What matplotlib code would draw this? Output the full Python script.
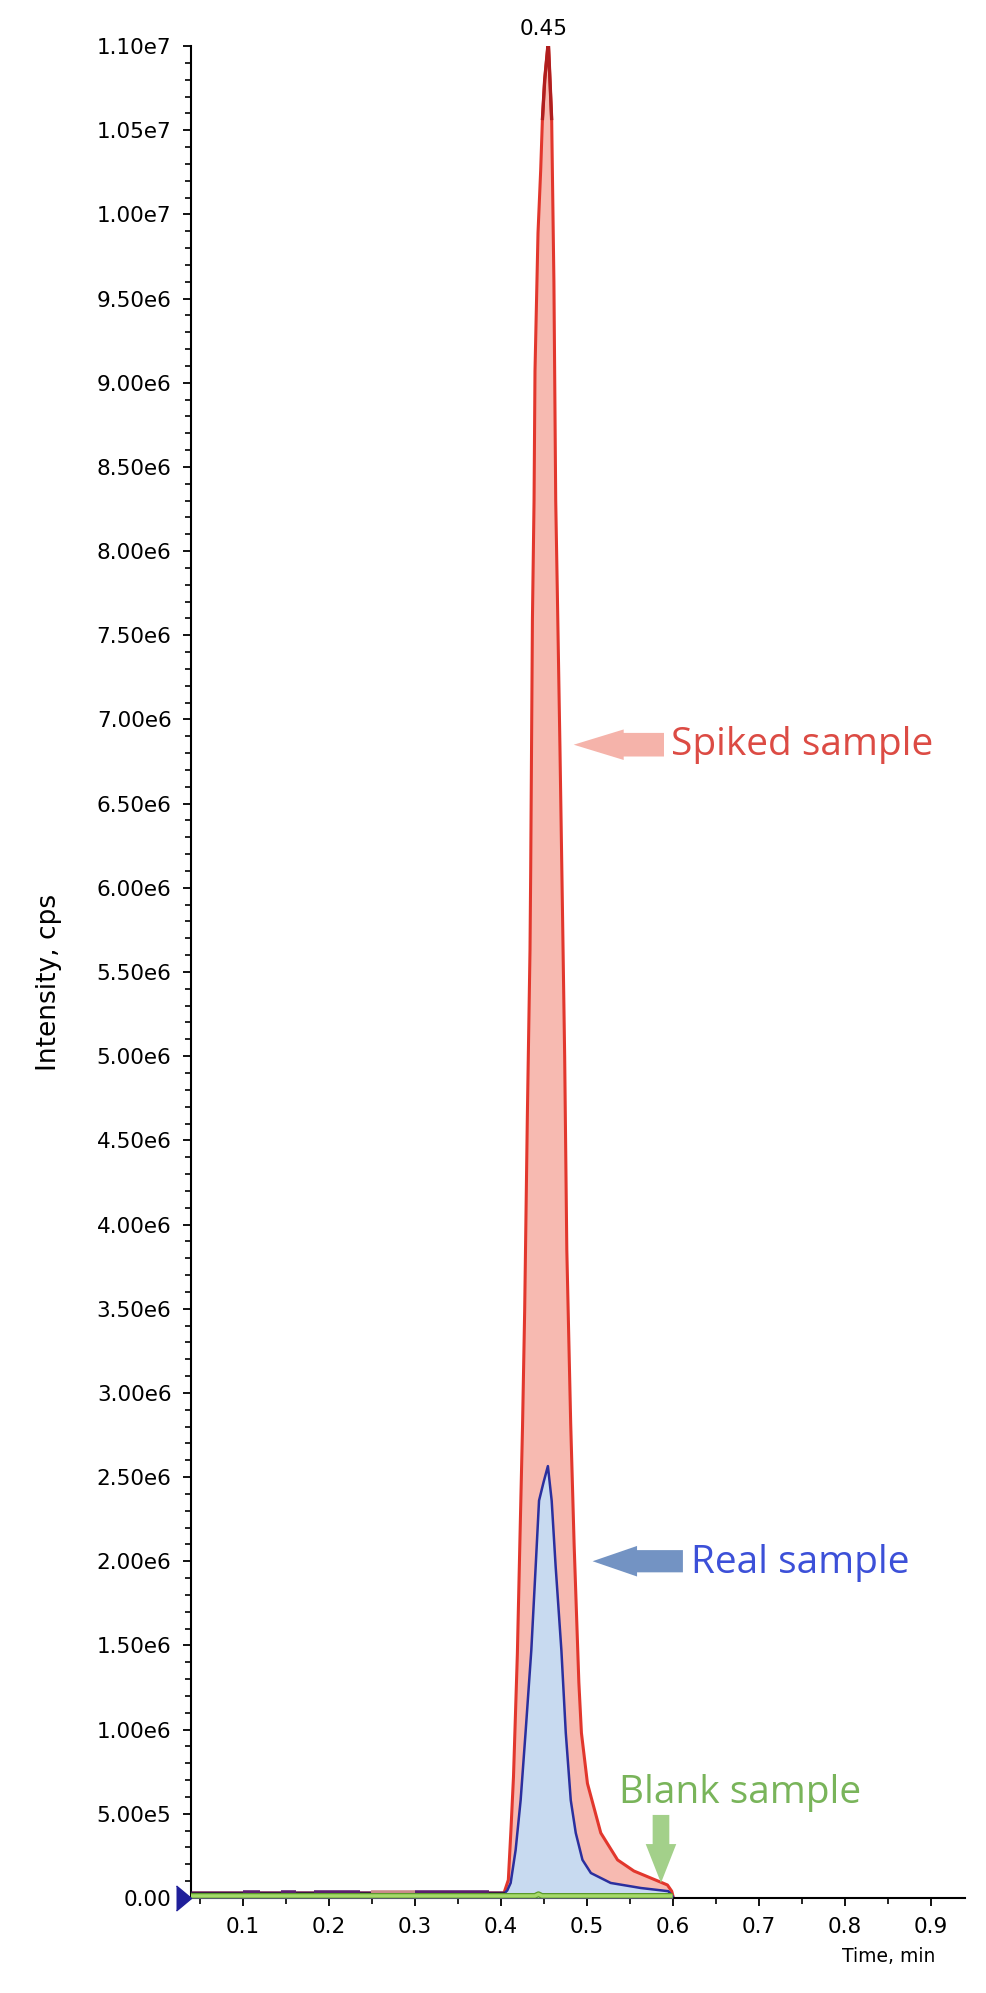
import numpy as np
import matplotlib
matplotlib.use("Agg")
import matplotlib.pyplot as plt
from matplotlib.ticker import MultipleLocator, FuncFormatter

# chromatogram values (time in min, intensity in cps)
spiked_t = [0.040, 0.404, 0.409, 0.412, 0.415, 0.4195, 0.4225, 0.4255, 0.428, 0.4311,
            0.4342, 0.435, 0.437, 0.4389, 0.440, 0.4435, 0.4466, 0.4486, 0.4513, 0.4550,
            0.4557, 0.4594, 0.4620, 0.4641, 0.4660, 0.4690, 0.4720, 0.4745, 0.4770, 0.4815,
            0.4855, 0.4910, 0.4940, 0.5010, 0.5165, 0.5360, 0.5550, 0.5710, 0.5940, 0.5990,
            0.6010]
spiked_i = [3.0e4, 3.0e4, 1.07e5, 4.0e5, 7.2e5, 1.45e6, 2.13e6, 2.8e6, 3.49e6, 4.64e6,
            5.63e6, 6.10e6, 7.59e6, 8.30e6, 9.07e6, 9.89e6, 1.026e7, 1.056e7, 1.080e7, 1.100e7,
            1.100e7, 1.056e7, 9.60e6, 8.30e6, 7.75e6, 6.84e6, 5.85e6, 5.00e6, 3.85e6, 2.82e6,
            2.10e6, 1.28e6, 9.8e5, 6.8e5, 3.86e5, 2.26e5, 1.60e5, 1.26e5, 7.7e4, 4.0e4,
            0.0]

real_t = [0.040, 0.405, 0.4078, 0.4117, 0.4175, 0.4233, 0.4290, 0.4357, 0.4408, 0.4447,
          0.4500, 0.4550, 0.4594, 0.4640, 0.4707, 0.4758, 0.4816, 0.4874, 0.4952, 0.5050,
          0.5280, 0.5630, 0.5950, 0.6000]
real_i = [3.0e4, 3.0e4, 4.5e4, 8.9e4, 2.85e5, 5.8e5, 9.8e5, 1.47e6, 1.97e6, 2.36e6,
          2.47e6, 2.565e6, 2.36e6, 1.97e6, 1.47e6, 9.8e5, 5.8e5, 3.86e5, 2.26e5, 1.48e5,
          8.9e4, 5.9e4, 4.0e4, 1.0e4]

blank_t = [0.040, 0.440, 0.444, 0.448, 0.600]
blank_i = [1.2e4, 1.2e4, 2.2e4, 1.2e4, 1.2e4]

# noisy stretches of the baseline (drawn purple / pink)
noise_start = [0.100, 0.145, 0.183, 0.300]
noise_end = [0.120, 0.162, 0.237, 0.386]
pink_start = [0.249]
pink_end = [0.300]

peak_rt = 0.45
peak_label = "0.45"

plt.rcParams['font.family'] = ['DejaVu Sans']

fig = plt.figure(figsize=(9.86, 19.93), dpi=100)
ax = fig.add_axes([0.1937, 0.0477, 0.785, 0.9292])

# spiked sample
ax.fill_between(spiked_t, spiked_i, 0, color='#f7bab1', lw=0, zorder=1)
ax.plot(spiked_t, spiked_i, color='#e2372d', lw=2.2, zorder=2)
top = np.ma.masked_less(np.array(spiked_i), 1.03e7)
ax.plot(spiked_t, top, color='#b01e1e', lw=2.4, zorder=2, solid_capstyle='butt')

# real sample
ax.fill_between(real_t, real_i, 0, color='#c8daf0', lw=0, zorder=3)
ax.plot(real_t, real_i, color='#2b2f9e', lw=1.8, zorder=4)

# baseline (red + blue overlapping)
base = spiked_i[0]
ax.plot(spiked_t[:2], spiked_i[:2], color='#3a1840', lw=1.6, zorder=5)
ax.hlines([base] * len(noise_start), noise_start, noise_end, color='#5b1f6e', lw=4, zorder=5)
ax.hlines([base] * len(pink_start), pink_start, pink_end, color='#c98a8a', lw=4, zorder=5)

# blank sample
ax.plot(blank_t, blank_i, color='#5a9a2a', lw=4.2, zorder=6, solid_capstyle='butt')
ax.plot(blank_t, blank_i, color='#a6d96a', lw=2.4, zorder=6, solid_capstyle='butt')

ax.set_xlim(0.04, 0.94)
ax.set_ylim(0, 1.10e7)

ax.spines['top'].set_visible(False)
ax.spines['right'].set_visible(False)
ax.spines['left'].set_linewidth(1.5)
ax.spines['bottom'].set_linewidth(1.5)

ax.xaxis.set_major_locator(MultipleLocator(0.1))
ax.xaxis.set_minor_locator(MultipleLocator(0.05))
ax.yaxis.set_major_locator(MultipleLocator(5e5))
ax.yaxis.set_minor_locator(MultipleLocator(1e5))


def sci(v, pos):
    v = round(v)
    if v == 0:
        return "0.00"
    if v < 0:
        return ""
    e = int(np.floor(np.log10(v)))
    return f"{v / 10 ** e:.2f}e{e}"


ax.yaxis.set_major_formatter(FuncFormatter(sci))
ax.xaxis.set_major_formatter(FuncFormatter(lambda v, p: f"{v:.1f}"))
ax.tick_params(axis='both', which='major', direction='out', length=6, width=1.3,
               labelsize=15.5, pad=8)
ax.tick_params(axis='both', which='minor', direction='out', length=4, width=1.2)
ax.tick_params(axis='x', which='major', pad=8)

ax.set_ylabel("Intensity, cps", fontsize=19)
ax.yaxis.set_label_coords(-0.167, 0.4946)
ax.set_xlabel("Time, min", fontsize=13.5)
ax.xaxis.set_label_coords(0.902, -0.0265)

# retention time label above the peak
ax.annotate(peak_label, xy=(peak_rt, max(spiked_i)), xytext=(0, 5),
            textcoords='offset points', ha='center', va='bottom', fontsize=15.5,
            annotation_clip=False)

# blue marker at the origin
ax.plot([0.04], [0], marker=[(-1.2, -1), (0, 0), (-1.2, 1)], markersize=21.6,
        color='#1f1f9a', clip_on=False, zorder=10)

# annotations
lab_font = ['Open Sans', 'DejaVu Sans']
ax.annotate("", xy=(0.485, 6.85e6), xytext=(0.590, 6.85e6),
            arrowprops=dict(arrowstyle="simple,head_length=1.8,head_width=1.1,tail_width=0.85",
                            mutation_scale=20, color='#f5b3aa', lw=0,
                            shrinkA=0, shrinkB=0))
ax.text(0.5986, 6.79e6, "Spiked sample", color='#dc4b44', fontsize=28,
        family=lab_font, ha='left', va='baseline')

ax.annotate("", xy=(0.507, 2.0e6), xytext=(0.612, 2.0e6),
            arrowprops=dict(arrowstyle="simple,head_length=1.6,head_width=1.1,tail_width=0.8",
                            mutation_scale=20, color='#7393c3', lw=0,
                            shrinkA=0, shrinkB=0))
ax.text(0.6214, 1.93e6, "Real sample", color='#3c50d8', fontsize=28,
        family=lab_font, ha='left', va='baseline')

ax.annotate("", xy=(0.5865, 8.9e4), xytext=(0.5865, 4.93e5),
            arrowprops=dict(arrowstyle="simple,head_length=1.4,head_width=1.1,tail_width=0.6",
                            mutation_scale=20, color='#a3d08a', lw=0,
                            shrinkA=0, shrinkB=0))
ax.text(0.5379, 5.64e5, "Blank sample", color='#79b45a', fontsize=28,
        family=lab_font, ha='left', va='baseline')

fig.savefig("out.png", dpi=100)
